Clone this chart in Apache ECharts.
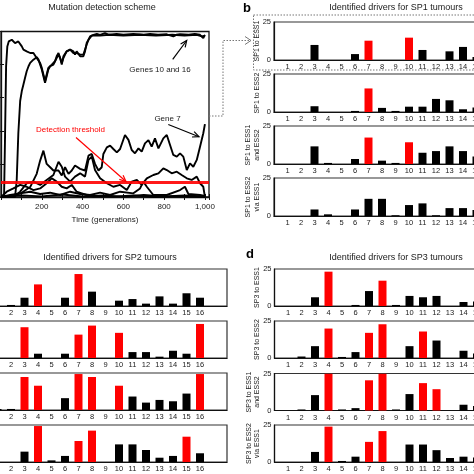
<!DOCTYPE html>
<html><head><meta charset="utf-8">
<script src="https://cdn.jsdelivr.net/npm/echarts@6/dist/echarts.min.js"></script>
<style>html,body{margin:0;padding:0;background:#fff}#c{width:474px;height:474px}</style>
</head><body><div id="c"></div>
<script>
const FONT = '"Liberation Sans", Arial, Helvetica, sans-serif';
const RED = '#ff0000';
const TXT = '#1a1a1a';

// ---------- Panel a: mutation detection scheme ----------
const timeTicks = [200, 400, 600, 800, 1000];
const detectionThreshold = 0.09;
const geneA = [[0,0],[15,0],[20,0.38],[25,0.79],[31,0.91],[38,0.94],[45,0.93],[53,0.95],[61,0.94],[69,0.93],[77,0.92],[85,0.94],[94,0.93],[102,0.91],[110,0.89],[118,0.90],[126,0.88],[135,0.87],[143,0.87],[151,0.88],[159,0.87],[167,0.86],[175,0.84],[184,0.83],[192,0.81],[200,0.78],[208,0.74],[216,0.70],[224,0.74],[232,0.78],[241,0.79],[249,0.80],[257,0.79],[265,0.82],[273,0.85],[282,0.87],[290,0.84],[298,0.80],[306,0.85],[314,0.86],[322,0.88],[331,0.87],[339,0.89],[347,0.90],[355,0.88],[363,0.86],[371,0.88],[380,0.87],[388,0.85],[396,0.86],[404,0.85],[412,0.88],[420,0.93],[429,0.95],[437,0.97],[445,0.98],[453,0.98],[470,0.985],[486,0.98],[510,0.99],[530,0.98],[567,0.985],[600,0.98],[649,0.985],[700,0.98],[731,0.985],[770,0.98],[813,0.983],[845,0.97],[860,0.98],[878,0.983],[920,0.98],[950,0.985],[976,0.98],[992,0.96],[1000,0.98]];
const geneB = [[0,0],[69,0],[77,0.10],[85,0.385],[94,0.58],[102,0.64],[110,0.68],[118,0.72],[126,0.76],[135,0.79],[143,0.81],[151,0.82],[159,0.83],[167,0.84],[175,0.845],[184,0.83],[192,0.80],[200,0.77],[208,0.73],[216,0.69],[224,0.73],[232,0.77],[241,0.79],[249,0.80],[257,0.80],[265,0.82],[273,0.84],[282,0.86],[290,0.84],[298,0.81],[306,0.84],[314,0.86],[322,0.88],[331,0.88],[339,0.89],[347,0.89],[355,0.87],[363,0.86],[371,0.87],[380,0.87],[388,0.86],[396,0.86],[404,0.86],[412,0.87],[420,0.92],[429,0.95],[437,0.96],[445,0.975],[453,0.98],[486,0.975],[530,0.98],[600,0.975],[680,0.98],[760,0.975],[840,0.98],[900,0.975],[960,0.98],[985,0.97],[1000,0.975]];
const gene7 = [[0,0],[60,0.01],[94,0.02],[143,0.06],[175,0.14],[192,0.22],[208,0.28],[224,0.20],[241,0.18],[257,0.16],[282,0.16],[298,0.13],[314,0.18],[331,0.14],[347,0.16],[363,0.19],[388,0.17],[412,0.16],[429,0.25],[445,0.26],[461,0.20],[478,0.16],[494,0.18],[502,0.26],[519,0.30],[535,0.31],[551,0.29],[568,0.27],[584,0.29],[608,0.375],[625,0.345],[641,0.284],[657,0.264],[674,0.294],[690,0.274],[706,0.324],[723,0.344],[739,0.304],[755,0.354],[772,0.294],[796,0.354],[813,0.375],[829,0.314],[845,0.254],[862,0.244],[878,0.264],[894,0.244],[911,0.163],[927,0.203],[943,0.183],[960,0.224],[976,0.304],[992,0.385],[1000,0.44]];
const geneD = [[0,0],[61,0.002],[94,0.032],[126,0.083],[159,0.093],[192,0.073],[224,0.103],[257,0.133],[282,0.213],[298,0.183],[314,0.123],[339,0.093],[363,0.123],[388,0.143],[412,0.123],[429,0.224],[445,0.244],[461,0.163],[486,0.113],[519,0.083],[551,0.062],[584,0.073],[617,0.042],[641,0.093],[666,0.103],[690,0.073],[715,0.113],[747,0.133],[772,0.143],[796,0.173],[813,0.163],[837,0.143],[862,0.153],[886,0.133],[911,0.113],[935,0.103],[960,0.123],[976,0.083],[992,0.062],[1000,0]];
const geneE = [[0,0],[28,0.032],[61,0.052],[94,0.073],[126,0.062],[159,0.042],[192,0.052],[224,0.083],[249,0.113],[273,0.093],[298,0.062],[322,0.052],[347,0.073],[371,0.032],[396,0.022],[420,0.012],[453,0.002],[486,0.006],[550,0.002],[650,0.01],[750,0.0],[850,0.004],[1000,0]];
const geneF = [[0,0],[45,0.012],[94,0.022],[143,0.032],[192,0.018],[241,0.026],[290,0.012],[339,0.032],[388,0.018],[437,0.012],[486,0.026],[535,0.012],[584,0.032],[649,0.022],[682,0.052],[698,0.093],[715,0.062],[747,0.012],[813,0.012],[878,0.042],[902,0.062],[919,0.018],[976,0.012],[1000,0.006]];
const geneG = [[0,0],[100,0.01],[200,0.004],[300,0.015],[400,0.003],[500,0.01],[600,0.002],[700,0.012],[800,0.004],[900,0.01],[1000,0.003]];

// ---------- Bar panels ----------
const categories = [1,2,3,4,5,6,7,8,9,10,11,12,13,14,15,16];

// SP1 tumours (panel b)
const sp1ToEss1      = [0,0,9.9,0,0,3.9,12.7,0,0,14.7,6.6,0,5.7,8.6,2,14];
const sp1ToEss2      = [0,0,3.8,0,0,0.7,15.5,2.7,0.7,3.5,3.5,8.6,7.7,1.8,3,10];
const sp1ToBoth      = [0,0,11.6,0.7,0,3.3,17.4,2.2,0.7,14.3,7.4,8.5,11.6,8.5,5,15];
const sp1ToEss2Via   = [0,0,4.3,1.1,0,4.3,11.3,11.3,0.5,7.2,8.3,0.5,5.2,5.2,4,8];
const sp1Red = [[7,10,16],[7],[7,10,16],[]];

// SP2 tumours (panel c)
const sp2ToEss1      = [0,0.7,5.6,14.6,0,5.6,21.6,9.7,0,3.6,4.7,1.6,6.5,1.6,8.6,5.6];
const sp2ToEss2      = [0,0,20.8,2.9,0,2.9,15.8,21.9,0,17,4,4,0.9,4.9,2.9,23];
const sp2ToBoth      = [0.6,0.7,22.3,16.4,0,8,24.3,22.3,0,16.4,9.1,5,6.8,5.9,11.1,24.3];
const sp2ToEss2Via   = [0,0,7,24.3,1.1,4.1,14.2,21.2,0,11.9,11.9,8.1,2.9,4.1,17.1,5.9];
const sp2Red = [[4,7],[3,7,8,10,16],[3,4,7,8,10,16],[4,7,8,15]];

// SP3 tumours (panel d)
const sp3ToEss1      = [0,0,5.9,23.2,0,0.7,10.1,17.1,0.7,6.8,5.9,6.8,0,2.7,3,5];
const sp3ToEss2      = [0,1,8,19.9,0.7,4,17,22.8,0,8,17.9,11.8,0,4.9,3,5];
const sp3ToBoth      = [0,0.7,10.4,24.8,0.7,1.6,20.4,24.8,0.7,11.1,18.5,14.4,0,3.9,3,5];
const sp3ToEss2Via   = [0,0,6.8,23.9,0.7,3.6,13.6,20.9,0,11.8,11.8,8,2.7,3.6,3,5];
const sp3Red = [[4,8],[4,7,8,11],[4,7,8,11,12],[4,7,8]];

const yTickLabels = [0, 25];

// ---------- build option ----------
const grids = [], xAxes = [], yAxes = [], series = [];

// panel a
grids.push({left:1, top:31.5, width:208, height:165.5, show:true, borderColor:'#111', borderWidth:1.3, outerBoundsMode:'none', containLabel:false});
xAxes.push({type:'value', gridIndex:0, min:0, max:1020, interval:100,
  axisLine:{lineStyle:{color:'#111', width:1.3}},
  axisTick:{inside:true, length:3, lineStyle:{color:'#111'}, interval:0},
  axisLabel:{fontFamily:FONT, fontSize:8, color:TXT, margin:6,
    formatter:v => timeTicks.includes(v) ? v.toLocaleString('en-US') : ''},
  splitLine:{show:false},
  name:'Time (generations)', nameLocation:'middle', nameGap:19,
  nameTextStyle:{fontFamily:FONT, fontSize:8, color:TXT}});
xAxes.push({type:'value', gridIndex:0, position:'top', min:0, max:1020, interval:100,
  axisLine:{show:false}, axisTick:{inside:true, length:3, lineStyle:{color:'#111'}},
  axisLabel:{show:false}, splitLine:{show:false}});
yAxes.push({type:'value', gridIndex:0, min:0, max:1, interval:0.2,
  axisLine:{lineStyle:{color:'#111', width:1.3}},
  axisTick:{inside:true, length:3, lineStyle:{color:'#111'}},
  axisLabel:{fontFamily:FONT, fontSize:8, color:TXT}, splitLine:{show:false}});
yAxes.push({type:'value', gridIndex:0, position:'right', min:0, max:1, interval:0.2,
  axisLine:{show:false}, axisTick:{inside:true, length:3, lineStyle:{color:'#111'}},
  axisLabel:{show:false}, splitLine:{show:false}});

[geneA, geneB, gene7, geneD, geneE, geneF, geneG].forEach((d) => {
  series.push({type:'line', xAxisIndex:0, yAxisIndex:0, data:d, showSymbol:false, symbol:'none',
    lineStyle:{color:'#000', width:1.9}, animation:false, z:2});
});
series.push({type:'line', xAxisIndex:0, yAxisIndex:0, data:[], symbol:'none', animation:false, z:5,
  markLine:{silent:true, symbol:['none','none'], label:{show:false},
    lineStyle:{color:RED, width:3, type:'solid', opacity:0.9},
    data:[{yAxis:detectionThreshold}]}});

function addPanel(left, tops, height, sets, reds, names, nameGaps) {
  sets.forEach((vals, i) => {
    const gi = grids.length;
    grids.push({left:left, top:tops[i], width:243, height:height, show:true,
      borderColor:'#333', borderWidth:1.2, outerBoundsMode:'none', containLabel:false});
    xAxes.push({type:'value', gridIndex:gi, min:0, max:18, interval:1,
      axisLine:{lineStyle:{color:'#111', width:1.2}}, axisTick:{show:false},
      axisLabel:{fontFamily:FONT, fontSize:7.5, color:TXT, margin:3,
        formatter:v => categories.includes(v) ? String(v) : ''},
      splitLine:{show:false}});
    yAxes.push({type:'value', gridIndex:gi, min:0, max:25, interval:25,
      axisLine:{lineStyle:{color:'#111', width:1.2}}, axisTick:{show:false},
      axisLabel:{fontFamily:FONT, fontSize:7.5, color:TXT, margin:3,
        formatter:v => yTickLabels.includes(v) ? String(v) : ''},
      splitLine:{show:false},
      name:names[i], nameLocation:'middle', nameRotate:90, nameGap:nameGaps[i], nameMoveOverlap:false,
      nameTextStyle:{fontFamily:FONT, fontSize:7, lineHeight:8.5, color:TXT}});
    const ax = xAxes.length - 1;
    series.push({type:'bar', xAxisIndex:ax, yAxisIndex:ax, barWidth:8, animation:false,
      data:categories.map((c, j) => ({value:[c, vals[j]],
        itemStyle:{color: reds[i].includes(c) ? RED : '#000'}}))});
  });
}

addPanel(274, [22, 74, 126, 178], 38,
  [sp1ToEss1, sp1ToEss2, sp1ToBoth, sp1ToEss2Via], sp1Red,
  ['SP1 to ESS1', 'SP1 to ESS2', 'SP1 to ESS1\nand ESS2', 'SP1 to ESS2\nvia ESS1'], [13, 13, 13, 13]);
addPanel(-16, [269, 321, 373, 425], 37,
  [sp2ToEss1, sp2ToEss2, sp2ToBoth, sp2ToEss2Via], sp2Red,
  ['SP2 to ESS1', 'SP2 to ESS2', 'SP2 to ESS1\nand ESS2', 'SP2 to ESS2\nvia ESS1'], [13, 13, 13, 13]);
addPanel(274.5, [269, 321, 373.5, 425], 37,
  [sp3ToEss1, sp3ToEss2, sp3ToBoth, sp3ToEss2Via], sp3Red,
  ['SP3 to ESS1', 'SP3 to ESS2', 'SP3 to ESS1\nand ESS2', 'SP3 to ESS2\nvia ESS1'], [13, 13, 13, 13]);

// ---------- annotations ----------
function arrow(x1, y1, x2, y2, color, w) {
  const a = Math.atan2(y2 - y1, x2 - x1), L = 7, s = 0.42;
  return [
    {type:'line', shape:{x1, y1, x2, y2}, style:{stroke:color, lineWidth:w}, z:10},
    {type:'polyline', shape:{points:[[x2 - L*Math.cos(a - s), y2 - L*Math.sin(a - s)], [x2, y2], [x2 - L*Math.cos(a + s), y2 - L*Math.sin(a + s)]]},
      style:{stroke:color, lineWidth:w, fill:null}, z:10}
  ];
}
function txt(x, y, text, size, color, weight) {
  return {type:'text', x, y, z:10, style:{text, fontFamily:FONT, fontSize:size, fill:color || TXT,
    fontWeight:weight || 'normal', align:'center', verticalAlign:'middle'}};
}
const dotted = {stroke:'#777', lineWidth:1, lineDash:[1.5, 1.5], fill:null};
const graphics = [
  txt(102, 8, 'Mutation detection scheme', 9),
  txt(247, 8, 'b', 13, '#000', 'bold'),
  txt(396, 8, 'Identified drivers for SP1 tumours', 9),
  txt(110, 258, 'Identified drivers for SP2 tumours', 9),
  txt(250, 254, 'd', 13, '#000', 'bold'),
  txt(396, 258, 'Identified drivers for SP3 tumours', 9),
  txt(160, 69.5, 'Genes 10 and 16', 8),
  txt(167.5, 118.5, 'Gene 7', 8),
  txt(70.5, 130, 'Detection threshold', 8, RED),
  ...arrow(172.7, 59.3, 186.7, 40.5, '#000', 1.2),
  ...arrow(168.3, 124.5, 199, 136.7, '#000', 1.2),
  ...arrow(76, 137.5, 126, 181.5, RED, 1.2),
  {type:'polyline', shape:{points:[[209, 116], [223, 116], [223, 40.5], [250, 40.5]]}, style:dotted, z:10},
  {type:'polyline', shape:{points:[[245, 36.5], [251, 40.5], [245, 44.5]]}, style:{stroke:'#777', lineWidth:1, fill:null}, z:10},
  {type:'rect', shape:{x:253.5, y:15, width:240, height:55}, style:dotted, z:0}
];

const chart = echarts.init(document.getElementById('c'), null, {renderer:'canvas'});
chart.setOption({
  backgroundColor:'#fff', animation:false,
  grid:grids, xAxis:xAxes, yAxis:yAxes, series:series, graphic:graphics
});
</script>
</body></html>
